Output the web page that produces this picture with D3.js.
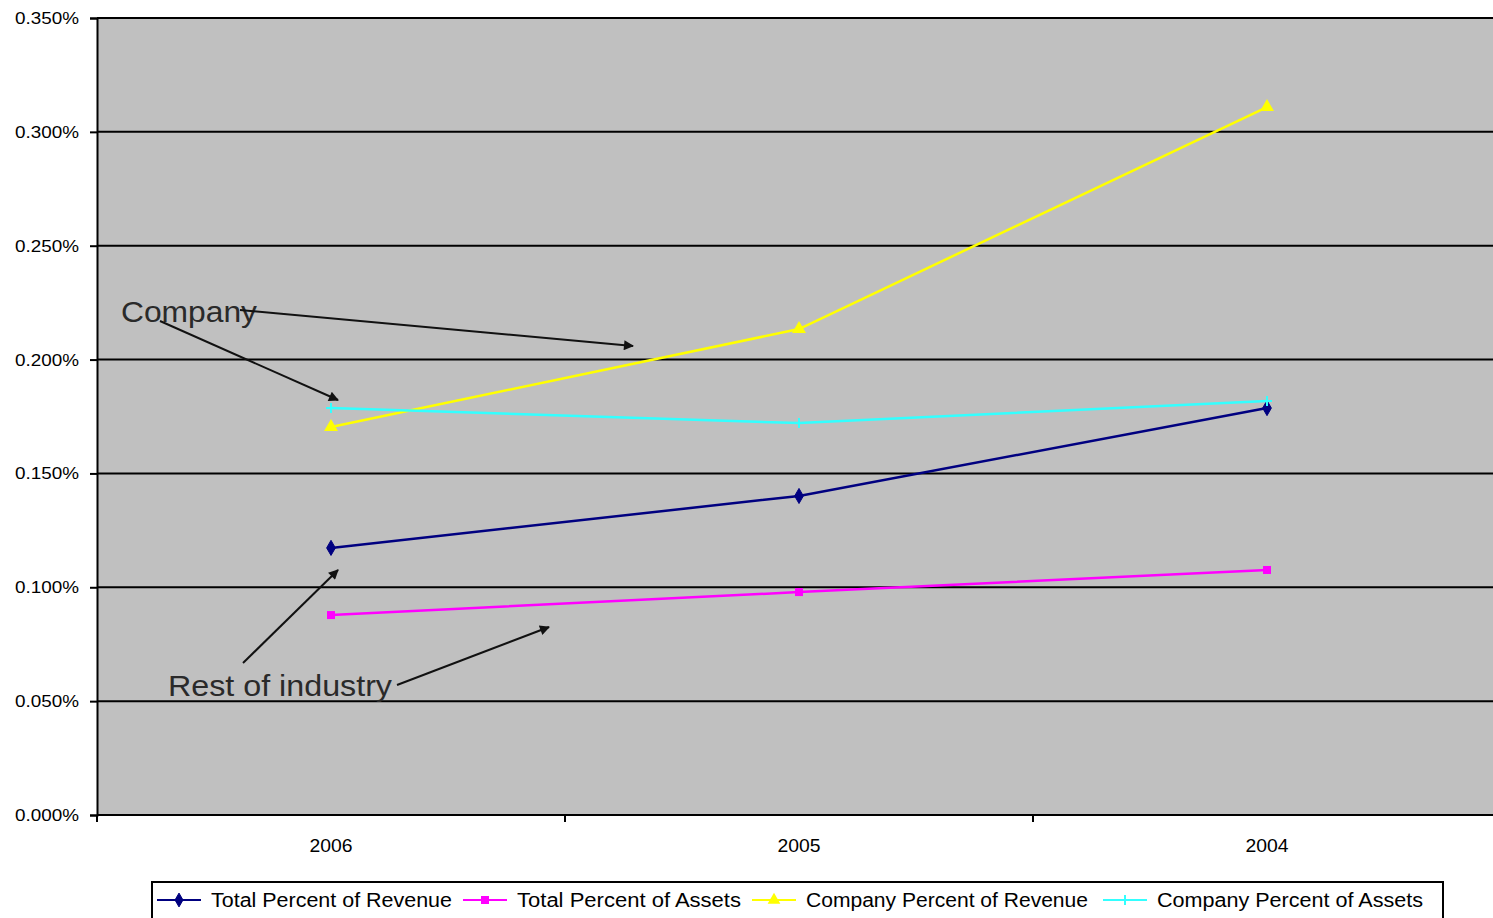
<!DOCTYPE html>
<html>
<head>
<meta charset="utf-8">
<script src="https://cdn.jsdelivr.net/npm/d3@7"></script>
<style>
  html, body { margin: 0; padding: 0; background: #fff; overflow: hidden; }
  svg { display: block; font-family: Arial, "Liberation Sans", sans-serif; }
</style>
</head>
<body>
<svg id="chart" width="1493" height="918"></svg>
<script>
// Categories and series (values in percent)
const years = ["2006", "2005", "2004"];
const totalRevenue   = [0.1173, 0.1401, 0.1787];
const totalAssets    = [0.0878, 0.0979, 0.1076];
const companyRevenue = [0.1704, 0.2134, 0.3109];
const companyAssets  = [0.1787, 0.1721, 0.1818];
const yTicks = [0, 0.05, 0.10, 0.15, 0.20, 0.25, 0.30, 0.35];

const seriesNames = ["Total Percent of Revenue", "Total Percent of Assets",
                     "Company Percent of Revenue", "Company Percent of Assets"];
const seriesValues = [totalRevenue, totalAssets, companyRevenue, companyAssets];
const seriesColors = ["#000080", "#ff00ff", "#ffff00", "#33ffff"];
const seriesMarkers = ["diamond", "square", "triangle", "star"];

const svg = d3.select("#chart");
const plot = { left: 97, top: 18, right: 1501, bottom: 815 };

const x = d3.scaleBand().domain(years).range([plot.left, plot.right]);
const y = d3.scaleLinear().domain([0, 0.35]).range([plot.bottom, plot.top]);
const cx = d => x(d) + x.bandwidth() / 2;

// Plot background
svg.append("rect")
  .attr("x", plot.left).attr("y", plot.top)
  .attr("width", plot.right - plot.left).attr("height", plot.bottom - plot.top)
  .attr("fill", "#c0c0c0");

// Horizontal gridlines
svg.append("g").selectAll("line").data(yTicks.slice(1)).join("line")
  .attr("x1", plot.left).attr("x2", plot.right)
  .attr("y1", d => y(d)).attr("y2", d => y(d))
  .attr("stroke", "#000").attr("stroke-width", 2);

// Y axis
const yAxis = d3.axisLeft(y).tickValues(yTicks)
  .tickFormat(d => d3.format(".3f")(d) + "%").tickSize(7).tickPadding(11);
const gy = svg.append("g").attr("transform", `translate(${plot.left},0)`).call(yAxis);
gy.select(".domain").attr("stroke", "#000").attr("stroke-width", 2);
gy.selectAll(".tick line").attr("stroke", "#000").attr("stroke-width", 2);
gy.selectAll(".tick text").attr("font-size", 17).attr("fill", "#000")
  .attr("font-family", "Arial, 'Liberation Sans', sans-serif")
  .attr("textLength", 64).attr("lengthAdjust", "spacingAndGlyphs");

// X axis with ticks at band boundaries
svg.append("line")
  .attr("x1", plot.left).attr("x2", plot.right)
  .attr("y1", plot.bottom).attr("y2", plot.bottom)
  .attr("stroke", "#000").attr("stroke-width", 2);
const bounds = years.map(d => x(d)).concat([plot.right]);
svg.append("g").selectAll("line").data(bounds).join("line")
  .attr("x1", d => d).attr("x2", d => d)
  .attr("y1", plot.bottom).attr("y2", plot.bottom + 7)
  .attr("stroke", "#000").attr("stroke-width", 2);
svg.append("g").selectAll("text").data(years).join("text")
  .attr("x", d => cx(d)).attr("y", plot.bottom + 37)
  .attr("text-anchor", "middle").attr("font-size", 18).attr("fill", "#000")
  .attr("textLength", 43).attr("lengthAdjust", "spacingAndGlyphs")
  .text(d => d);

// Marker drawing
function marker(g, type, color, size) {
  if (type === "diamond") {
    g.append("path").attr("d", d3.symbol(d3.symbolDiamond, size * 11)())
      .attr("fill", color).attr("stroke", color);
  } else if (type === "square") {
    g.append("rect").attr("x", -4).attr("y", -4).attr("width", 8).attr("height", 8)
      .attr("fill", color);
  } else if (type === "triangle") {
    g.append("path").attr("d", d3.symbol(d3.symbolTriangle, size * 14)())
      .attr("fill", color);
  } else {
    g.append("path").attr("d", "M-5,0H5M0,-5V5")
      .attr("stroke", color).attr("stroke-width", 2);
  }
}

// Series lines and markers
const line = d3.line().x((d, i) => cx(years[i])).y(d => y(d));
seriesValues.forEach((vals, si) => {
  const g = svg.append("g");
  g.append("path").datum(vals).attr("d", line)
    .attr("fill", "none").attr("stroke", seriesColors[si]).attr("stroke-width", 2.5);
  vals.forEach((v, i) => {
    const m = g.append("g").attr("transform", `translate(${cx(years[i])},${y(v)})`);
    marker(m, seriesMarkers[si], seriesColors[si], 6);
  });
});

// Annotations with arrows
const defs = svg.append("defs");
defs.append("marker").attr("id", "arrow").attr("viewBox", "0 0 10 10")
  .attr("refX", 9).attr("refY", 5).attr("markerWidth", 14).attr("markerHeight", 10)
  .attr("markerUnits", "userSpaceOnUse").attr("orient", "auto")
  .append("path").attr("d", "M0,0L10,5L0,10Z").attr("fill", "#111");

const notes = [
  { text: "Company", x: 121, y: 322, len: 136, arrows: [[160, 321, 338, 400], [240, 310, 633, 346]] },
  { text: "Rest of industry", x: 168, y: 696, len: 224, arrows: [[243, 663, 338, 570], [397, 685, 549, 627]] }
];
notes.forEach(n => {
  svg.append("text").attr("x", n.x).attr("y", n.y)
    .attr("font-size", 30).attr("fill", "#2a2a2a")
    .attr("textLength", n.len).attr("lengthAdjust", "spacingAndGlyphs")
    .text(n.text);
  n.arrows.forEach(a => {
    svg.append("line").attr("x1", a[0]).attr("y1", a[1]).attr("x2", a[2]).attr("y2", a[3])
      .attr("stroke", "#111").attr("stroke-width", 2).attr("marker-end", "url(#arrow)");
  });
});

// Legend
const legend = svg.append("g");
legend.append("rect").attr("x", 152).attr("y", 882).attr("width", 1291).attr("height", 50)
  .attr("fill", "#fff").attr("stroke", "#000").attr("stroke-width", 2);
const legendX = [157, 463, 752, 1103];
const legendLen = [241, 224, 282, 266];
seriesNames.forEach((name, si) => {
  const g = legend.append("g").attr("transform", `translate(${legendX[si]},900)`);
  g.append("line").attr("x1", 0).attr("x2", 44).attr("y1", 0).attr("y2", 0)
    .attr("stroke", seriesColors[si]).attr("stroke-width", 2);
  const m = g.append("g").attr("transform", "translate(22,0)");
  marker(m, seriesMarkers[si], seriesColors[si], 5);
  g.append("text").attr("x", 54).attr("y", 7).attr("font-size", 20).attr("fill", "#000")
    .attr("textLength", legendLen[si]).attr("lengthAdjust", "spacingAndGlyphs")
    .text(name);
});
</script>
</body>
</html>
